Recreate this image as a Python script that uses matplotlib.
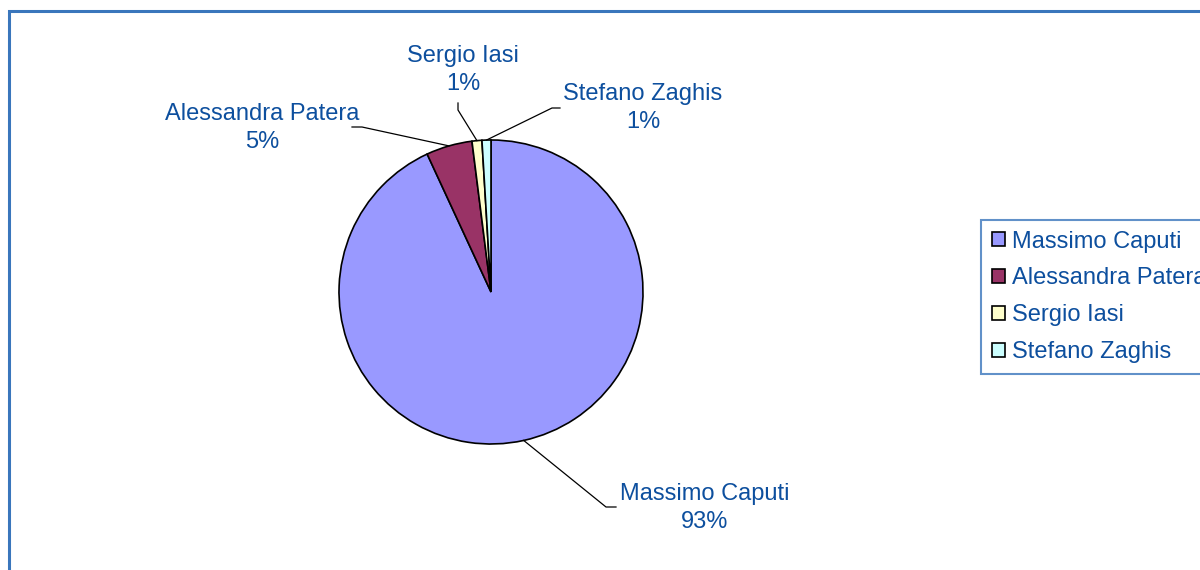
"""Pie chart: share of votes by candidate."""

import matplotlib.pyplot as plt
import numpy as np
from matplotlib.patches import Rectangle

plt.rcParams['font.family'] = ['Liberation Sans', 'DejaVu Sans']

candidates = ['Massimo Caputi', 'Alessandra Patera', 'Sergio Iasi', 'Stefano Zaghis']
shares = [93.1, 4.9, 1.05, 0.95]
colors = ['#9999FF', '#993366', '#FFFFCC', '#CCFFFF']

TEXT = '#0D4F9E'
BORDER = '#3A76BC'
W, H = 1200, 570

# label layout in pixel coords (top-left origin): text centre, elbow, end
label_pos = [(705, 508), (262, 128), (463, 70), (643, 108)]
elbows = [[(606, 507), (616, 507)],
          [(362, 127), (352, 127)],
          [(458, 110), (458, 103)],
          [(552, 108), (560, 108)]]

fig = plt.figure(figsize=(12, 5.7), dpi=100)
ax = fig.add_axes([0, 0, 1, 1])

cx, cy, r = 491, 292, 152
wedges, _ = ax.pie(shares, colors=colors, startangle=90, counterclock=False,
                   center=(cx, H - cy), radius=r,
                   wedgeprops=dict(edgecolor='black', linewidth=1.2))
ax.set_xlim(0, W)
ax.set_ylim(0, H)
ax.set_aspect('equal')
ax.axis('off')

for w, name, val, (tx, ty), elb in zip(wedges, candidates, shares,
                                       label_pos, elbows):
    mid = np.deg2rad((w.theta1 + w.theta2) / 2)
    ex, ey = cx + r * np.cos(mid), (H - cy) + r * np.sin(mid)
    xs = [ex] + [p[0] for p in elb]
    ys = [ey] + [H - p[1] for p in elb]
    ax.plot(xs, ys, color='black', lw=0.9)
    ax.text(tx, H - ty, f'{name}\n{val:.0f}%', ha='center', va='center',
            color=TEXT, fontsize=17, linespacing=1.38)

# outer chart frame
ax.add_patch(Rectangle((9, -20), W + 20, H - 11 + 20, fill=False,
                       edgecolor=BORDER, lw=2.2, clip_on=False))

leg = ax.legend(wedges, candidates, loc='upper left',
                bbox_to_anchor=(981 / W, 1 - 220 / H),
                fontsize=17, frameon=True, fancybox=False,
                handlelength=0.55, handleheight=0.55, handletextpad=0.3,
                labelspacing=0.63, borderpad=0.45, borderaxespad=0)
leg.get_frame().set_edgecolor(BORDER)
leg.get_frame().set_linewidth(1.5)
for t in leg.get_texts():
    t.set_color(TEXT)

fig.savefig('out.png', dpi=100)
